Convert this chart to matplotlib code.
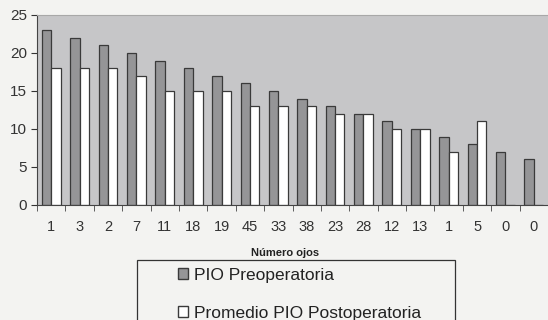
import numpy as np
import matplotlib.pyplot as plt
from matplotlib.patches import Patch, Rectangle

plt.rcParams['font.family'] = ['Liberation Sans', 'DejaVu Sans']

ojos = ['1', '3', '2', '7', '11', '18', '19', '45', '33', '38',
        '23', '28', '12', '13', '1', '5', '0', '0']
pio_pre = [23, 22, 21, 20, 19, 18, 17, 16, 15, 14, 13, 12, 11, 10, 9, 8, 7, 6]
pio_post = [18, 18, 18, 17, 15, 15, 15, 13, 13, 13, 12, 12, 10, 10, 7, 11, 0, 0]

W, H = 548, 320
fig = plt.figure(figsize=(W / 100, H / 100), dpi=100, facecolor='#f3f3f1')
ax = fig.add_axes([37 / W, 1 - 205 / H, 1 - 37 / W, 190 / H])
ax.set_facecolor('#c6c6c8')

x = np.arange(len(ojos))
w = 0.33
ax.bar(x - w / 2, pio_pre, w, color='#959597', edgecolor='#3a3a3a', linewidth=0.9)
ax.bar(x + w / 2, pio_post, w, color='white', edgecolor='#3a3a3a', linewidth=0.9)

ax.set_xlim(-0.5, 17.25)
ax.set_ylim(0, 25)
ax.set_yticks(range(0, 26, 5))
ax.set_xticks(x)
ax.set_xticklabels(ojos)
ax.set_xticks(np.arange(-0.5, 18, 1), minor=True)
ax.tick_params(axis='x', which='major', length=0, pad=11, labelsize=10.5, colors='#333333')
ax.tick_params(axis='x', which='minor', length=4, direction='out', color='#444444')
ax.tick_params(axis='y', length=4, labelsize=11, colors='#333333', pad=3)

ax.spines['right'].set_visible(False)
ax.spines['top'].set_color('#a8a8a8')
ax.spines['left'].set_color('#444444')
ax.spines['bottom'].set_color('#444444')

fig.text(285 / W, 1 - 253 / H, 'Número ojos', ha='center', va='center',
         fontsize=8, fontweight='bold', color='#222222')

# legend frame runs off the bottom edge
fig.patches.append(Rectangle((137 / W, 1 - 325 / H), 318 / W, 65 / H,
                             transform=fig.transFigure, facecolor='none',
                             edgecolor='#333333', linewidth=0.9))

handles = [Patch(facecolor='#959597', edgecolor='#3a3a3a', label='PIO Preoperatoria'),
           Patch(facecolor='white', edgecolor='#3a3a3a', label='Promedio PIO Postoperatoria')]
leg = fig.legend(handles=handles, loc='upper left',
                 bbox_to_anchor=(178 / W, 1 - 268 / H), fontsize=12.5, frameon=False,
                 handlelength=0.6, handleheight=0.6, handletextpad=0.3,
                 labelspacing=1.3, borderpad=0, borderaxespad=0)
for t in leg.get_texts():
    t.set_color('#222222')

fig.savefig('out.png', dpi=100, facecolor=fig.get_facecolor())
